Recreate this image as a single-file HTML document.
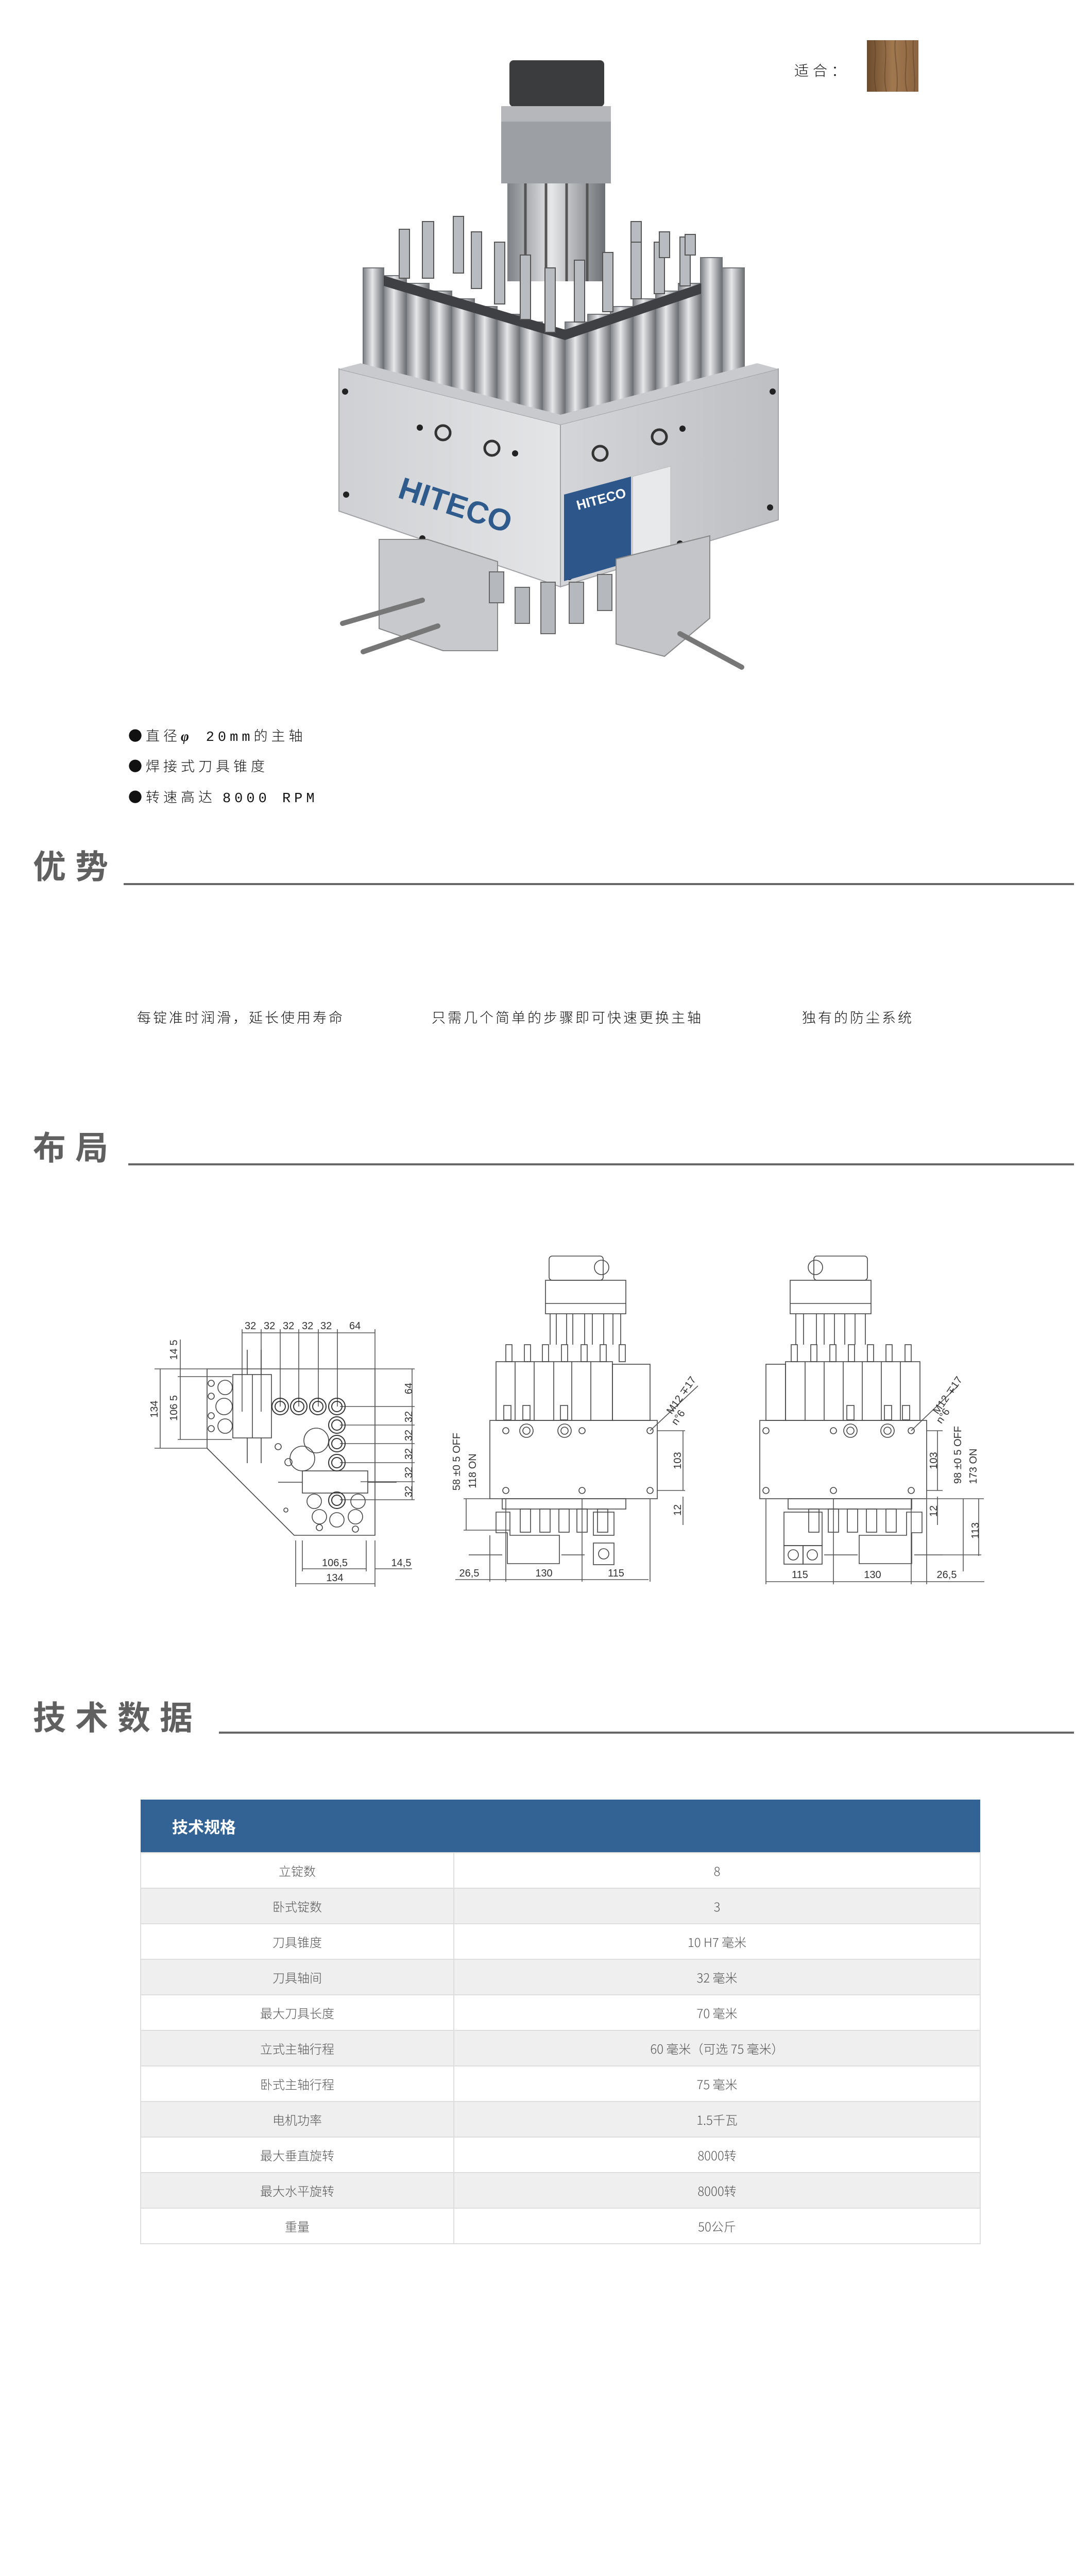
<!DOCTYPE html>
<html><head><meta charset="utf-8">
<style>
html,body{margin:0;padding:0;background:#fff;overflow:hidden;}
body{width:2120px;height:5102px;position:relative;overflow:hidden;font-family:"Liberation Sans","Noto Sans CJK SC",sans-serif;}
.a{position:absolute;white-space:nowrap;}
.h{font-family:"Noto Sans CJK SC",sans-serif;font-weight:700;color:#606060;font-size:64px;letter-spacing:18px;line-height:1;}
.hl{position:absolute;height:4px;background:#666;}
.b{font-family:"Noto Sans CJK SC",sans-serif;font-weight:300;color:#111;font-size:27px;letter-spacing:7px;line-height:1;}
.adv{font-family:"Noto Sans CJK SC",sans-serif;font-weight:300;color:#111;font-size:27px;letter-spacing:4px;line-height:1;}
table{position:absolute;left:272px;top:3493px;width:1632px;border-collapse:collapse;font-family:"Noto Sans CJK SC",sans-serif;}
th{background:#336294;color:#fff;height:102px;text-align:left;padding:0 0 0 61px;font-size:31px;font-weight:700;}
td{height:67px;border:2px solid #dedede;text-align:center;font-size:24px;color:#555;font-weight:300;padding:0;}
tr.g td{background:#efefef;}
td.l{width:606px;}
</style></head><body>

<div class="a" style="left:1542px;top:116px;font-family:'Noto Sans CJK SC',sans-serif;font-weight:300;font-size:28px;letter-spacing:8px;color:#111;">适合：</div>
<svg class="a" style="left:1683px;top:78px" width="100" height="100">
<defs><linearGradient id="w" x1="0" x2="1"><stop offset="0" stop-color="#6b4a2c"/><stop offset=".5" stop-color="#a07850"/><stop offset="1" stop-color="#8a6440"/></linearGradient></defs>
<rect width="100" height="100" fill="url(#w)"/>
<path d="M15 0 C20 40 10 60 18 100 M35 0 C40 40 30 70 38 100 M55 0 C52 30 62 60 58 100 M75 0 C80 40 70 70 78 100 M90 0 C88 40 95 70 92 100" stroke="#5a3c22" stroke-width="2" fill="none" opacity=".5"/>
</svg>

<!-- product image -->
<svg class="a" style="left:0;top:0" width="2120" height="1320">
<defs>
<linearGradient id="lf" x1="0" x2="1"><stop offset="0" stop-color="#cfd0d3"/><stop offset="1" stop-color="#e4e5e7"/></linearGradient>
<linearGradient id="rf" x1="0" x2="1"><stop offset="0" stop-color="#d4d5d8"/><stop offset="1" stop-color="#bdbfc2"/></linearGradient>
<linearGradient id="rod" x1="0" x2="1"><stop offset="0" stop-color="#7d8084"/><stop offset=".45" stop-color="#e6e7e9"/><stop offset="1" stop-color="#6c6f73"/></linearGradient>
</defs>
<rect x="989" y="117" width="184" height="90" rx="8" fill="#3b3c3e"/>
<rect x="973" y="206" width="213" height="150" fill="#9c9fa3"/>
<rect x="973" y="206" width="213" height="30" fill="#b5b7ba"/>
<rect x="985" y="356" width="190" height="190" fill="url(#rod)"/>
<g stroke="#555" stroke-width="5"><line x1="1020" y1="356" x2="1020" y2="546"/><line x1="1060" y1="356" x2="1060" y2="546"/><line x1="1100" y1="356" x2="1100" y2="546"/><line x1="1140" y1="356" x2="1140" y2="546"/></g>
<!-- spindle cluster -->
<g fill="url(#rod)" stroke="#707377" stroke-width="2">
<rect x="705" y="520" width="40" height="230"/><rect x="1400" y="520" width="45" height="230"/><rect x="1360" y="500" width="42" height="250"/>
<rect x="745" y="535" width="44" height="240"/><rect x="789" y="550" width="44" height="240"/><rect x="833" y="565" width="44" height="240"/><rect x="877" y="580" width="44" height="240"/><rect x="921" y="595" width="44" height="240"/><rect x="965" y="610" width="44" height="240"/><rect x="1009" y="625" width="44" height="240"/><rect x="1053" y="640" width="44" height="240"/>
<rect x="1097" y="625" width="44" height="240"/><rect x="1141" y="610" width="44" height="240"/><rect x="1185" y="595" width="44" height="240"/><rect x="1229" y="580" width="44" height="240"/><rect x="1273" y="565" width="44" height="240"/><rect x="1317" y="550" width="44" height="240"/>
</g>
<g fill="#3f4043">
<path d="M745 535 L1097 640 L1361 550 L1361 570 L1097 660 L745 555Z"/>
</g>
<g fill="#b8bbbf" stroke="#555" stroke-width="2">
<rect x="775" y="445" width="20" height="95"/><rect x="820" y="430" width="22" height="110"/><rect x="880" y="420" width="20" height="110"/><rect x="915" y="450" width="20" height="110"/><rect x="960" y="470" width="20" height="120"/><rect x="1010" y="495" width="20" height="125"/><rect x="1058" y="520" width="20" height="125"/><rect x="1115" y="505" width="20" height="120"/><rect x="1170" y="490" width="20" height="115"/><rect x="1225" y="460" width="20" height="120"/><rect x="1270" y="470" width="20" height="100"/><rect x="1320" y="460" width="20" height="95"/><rect x="1280" y="450" width="20" height="50"/><rect x="1225" y="430" width="20" height="40"/><rect x="1330" y="455" width="20" height="40"/>
</g>
<g fill="#c5c7ca" stroke="#777" stroke-width="2">
<rect x="905" y="890" width="24" height="55"/><rect x="1000" y="930" width="24" height="55"/><rect x="1100" y="935" width="24" height="55"/><rect x="1210" y="900" width="24" height="55"/>
</g>
<!-- block -->
<path d="M658 716 L1088 824 L1088 1139 L658 992Z" fill="url(#lf)" stroke="#a0a2a5" stroke-width="2"/>
<path d="M1088 824 L1511 716 L1511 1009 L1088 1139Z" fill="url(#rf)" stroke="#a0a2a5" stroke-width="2"/>
<path d="M658 716 L700 705 L1088 805 L1470 705 L1511 716 L1088 824Z" fill="#c9cacd"/>
<g fill="#222"><circle cx="670" cy="760" r="6"/><circle cx="672" cy="960" r="6"/><circle cx="815" cy="830" r="6"/><circle cx="1000" cy="880" r="6"/><circle cx="1500" cy="760" r="6"/><circle cx="1495" cy="985" r="6"/><circle cx="1325" cy="832" r="6"/><circle cx="1105" cy="1120" r="6"/><circle cx="1320" cy="1055" r="6"/><circle cx="820" cy="1045" r="6"/></g>
<g fill="none" stroke="#333" stroke-width="5"><circle cx="860" cy="840" r="14"/><circle cx="955" cy="870" r="14"/><circle cx="1165" cy="880" r="14"/><circle cx="1280" cy="848" r="14"/></g>
<text x="770" y="965" transform="rotate(18 770 965)" font-family="Liberation Sans" font-weight="700" font-size="60" fill="#2e5a8c">HITECO</text>
<path d="M1095 960 L1225 925 L1225 1090 L1095 1128Z" fill="#2d568a"/>
<path d="M1228 925 L1302 905 L1302 1065 L1228 1088Z" fill="#e8e9eb" stroke="#bbb"/>
<text x="1122" y="990" transform="rotate(-15 1122 990)" font-family="Liberation Sans" font-weight="700" font-size="26" fill="#fff">HITECO</text>
<!-- bottom units -->
<path d="M736 1047 L830 1047 L966 1090 L966 1263 L860 1263 L736 1220Z" fill="#c7c9cc" stroke="#888" stroke-width="2"/>
<path d="M1196 1085 L1378 1040 L1378 1200 L1290 1274 L1196 1250Z" fill="#c3c5c8" stroke="#888" stroke-width="2"/>
<g fill="#b5b8bc" stroke="#666" stroke-width="2"><rect x="1000" y="1140" width="28" height="70"/><rect x="1050" y="1130" width="28" height="100"/><rect x="1105" y="1130" width="28" height="80"/><rect x="1160" y="1115" width="28" height="70"/><rect x="950" y="1110" width="28" height="60"/></g>
<g stroke="#777" stroke-width="10" stroke-linecap="round"><line x1="665" y1="1210" x2="820" y2="1165"/><line x1="705" y1="1265" x2="850" y2="1215"/><line x1="1320" y1="1230" x2="1440" y2="1295"/></g>
</svg>

<div class="a b" style="left:249px;top:1413px">●直径<i style="font-family:'Liberation Serif';font-weight:700">φ</i>&nbsp; <span style="font-family:'Liberation Mono'">20mm</span>的主轴</div>
<div class="a b" style="left:249px;top:1472px">●焊接式刀具锥度</div>
<div class="a b" style="left:249px;top:1532px">●转速高达 <span style="font-family:'Liberation Mono'">8000 RPM</span></div>

<div class="a h" style="left:64px;top:1646px">优势</div>
<div class="hl" style="left:240px;width:1845px;top:1714px;"></div>
<div class="a adv" style="left:266px;top:1960px">每锭准时润滑，延长使用寿命</div>
<div class="a adv" style="left:838px;top:1960px">只需几个简单的步骤即可快速更换主轴</div>
<div class="a adv" style="left:1557px;top:1960px">独有的防尘系统</div>

<div class="a h" style="left:64px;top:2192px">布局</div>
<div class="hl" style="left:249px;width:1836px;top:2258px;"></div>

<!-- drawings -->
<svg class="a" style="left:0;top:2380px" width="2120" height="720" font-family="Liberation Sans" font-size="20" fill="#333">
<g transform="translate(0,-2380)" stroke="#444" stroke-width="1.6" fill="none">
<path d="M402 2657 L728 2657 L728 2980 L571 2980 L402 2811Z"/>
<g stroke="#555">
<line x1="470" y1="2587" x2="728" y2="2587"/>
<line x1="470" y1="2580" x2="470" y2="2740"/><line x1="507" y1="2580" x2="507" y2="2740"/><line x1="544" y1="2580" x2="544" y2="2730"/><line x1="580" y1="2580" x2="580" y2="2730"/><line x1="618" y1="2580" x2="618" y2="2730"/><line x1="655" y1="2580" x2="655" y2="2730"/><line x1="728" y1="2580" x2="728" y2="2657"/>
<line x1="311" y1="2657" x2="311" y2="2811"/><line x1="300" y1="2657" x2="402" y2="2657"/><line x1="300" y1="2811" x2="402" y2="2811"/>
<line x1="350" y1="2600" x2="350" y2="2794"/><line x1="345" y1="2672" x2="450" y2="2672"/><line x1="345" y1="2794" x2="450" y2="2794"/>
<line x1="800" y1="2657" x2="800" y2="2911"/>
<line x1="660" y1="2730" x2="805" y2="2730"/><line x1="660" y1="2766" x2="805" y2="2766"/><line x1="660" y1="2802" x2="805" y2="2802"/><line x1="660" y1="2839" x2="805" y2="2839"/><line x1="700" y1="2876" x2="805" y2="2876"/><line x1="660" y1="2911" x2="805" y2="2911"/><line x1="728" y1="2657" x2="805" y2="2657"/>
<line x1="574" y1="2990" x2="574" y2="3080"/><line x1="587" y1="2990" x2="587" y2="3050"/><line x1="711" y1="2990" x2="711" y2="3050"/><line x1="728" y1="2990" x2="728" y2="3080"/>
<line x1="587" y1="3045" x2="711" y2="3045"/><line x1="728" y1="3045" x2="800" y2="3045"/><line x1="574" y1="3074" x2="728" y2="3074"/>
</g>
<rect x="452" y="2668" width="75" height="123"/>
<line x1="490" y1="2668" x2="490" y2="2791"/>
<rect x="587" y="2855" width="127" height="43"/>
<g stroke="#333" stroke-width="2">
<circle cx="544" cy="2730" r="16"/><circle cx="544" cy="2730" r="10"/><circle cx="580" cy="2730" r="16"/><circle cx="580" cy="2730" r="10"/><circle cx="617" cy="2730" r="16"/><circle cx="617" cy="2730" r="10"/><circle cx="654" cy="2730" r="16"/><circle cx="654" cy="2730" r="10"/>
<circle cx="654" cy="2766" r="16"/><circle cx="654" cy="2766" r="10"/><circle cx="654" cy="2802" r="16"/><circle cx="654" cy="2802" r="10"/><circle cx="654" cy="2839" r="16"/><circle cx="654" cy="2839" r="10"/><circle cx="654" cy="2912" r="16"/><circle cx="654" cy="2912" r="10"/>
</g>
<circle cx="435" cy="2730" r="16"/><circle cx="437" cy="2693" r="14"/><circle cx="437" cy="2768" r="14"/><circle cx="410" cy="2685" r="6"/><circle cx="410" cy="2710" r="6"/><circle cx="410" cy="2748" r="6"/><circle cx="410" cy="2773" r="6"/>
<circle cx="614" cy="2796" r="24"/><circle cx="587" cy="2831" r="24"/><circle cx="560" cy="2838" r="7"/><circle cx="540" cy="2808" r="6"/>
<circle cx="620" cy="2944" r="14"/><circle cx="690" cy="2944" r="14"/><circle cx="620" cy="2965" r="6"/><circle cx="654" cy="2950" r="14"/><circle cx="690" cy="2968" r="6"/><circle cx="610" cy="2914" r="14"/><circle cx="695" cy="2914" r="14"/><circle cx="555" cy="2931" r="4"/>
<path d="M480 2620 L480 2668 M507 2620 L507 2668 M480 2791 L480 2840 M507 2791 L507 2840 M540 2877 L587 2877 M714 2877 L770 2877"/>
<!-- middle elevation -->
<rect x="1066" y="2438" width="105" height="47" rx="6"/><circle cx="1168" cy="2460" r="14"/>
<rect x="1059" y="2485" width="156" height="65"/><line x1="1059" y1="2530" x2="1215" y2="2530"/>
<g><line x1="1068" y1="2550" x2="1068" y2="2610"/><line x1="1080" y1="2550" x2="1080" y2="2610"/><line x1="1100" y1="2550" x2="1100" y2="2610"/><line x1="1112" y1="2550" x2="1112" y2="2610"/><line x1="1135" y1="2550" x2="1135" y2="2610"/><line x1="1150" y1="2550" x2="1150" y2="2610"/><line x1="1172" y1="2550" x2="1172" y2="2610"/><line x1="1190" y1="2550" x2="1190" y2="2610"/><line x1="1205" y1="2550" x2="1205" y2="2610"/></g>
<g><rect x="982" y="2610" width="12" height="33"/><rect x="1018" y="2610" width="12" height="33"/><rect x="1053" y="2610" width="12" height="33"/><rect x="1090" y="2610" width="12" height="33"/><rect x="1128" y="2610" width="12" height="33"/><rect x="1165" y="2610" width="12" height="33"/><rect x="1202" y="2610" width="12" height="33"/></g>
<rect x="963" y="2643" width="226" height="114"/><rect x="1189" y="2648" width="73" height="109"/>
<line x1="1000" y1="2643" x2="1000" y2="2757"/><line x1="1037" y1="2643" x2="1037" y2="2757"/><line x1="1075" y1="2643" x2="1075" y2="2757"/><line x1="1110" y1="2643" x2="1110" y2="2757"/><line x1="1147" y1="2643" x2="1147" y2="2757"/>
<rect x="978" y="2728" width="14" height="28"/><rect x="1015" y="2728" width="14" height="28"/><rect x="1088" y="2728" width="14" height="28"/>
<rect x="951" y="2757" width="325" height="152"/>
<circle cx="982" cy="2777" r="6"/><circle cx="1130" cy="2777" r="6"/><circle cx="1262" cy="2777" r="6"/><circle cx="982" cy="2893" r="6"/><circle cx="1130" cy="2893" r="6"/><circle cx="1262" cy="2893" r="6"/>
<circle cx="1022" cy="2777" r="13"/><circle cx="1022" cy="2777" r="7"/><circle cx="1096" cy="2777" r="13"/><circle cx="1096" cy="2777" r="7"/>
<rect x="975" y="2909" width="240" height="20"/>
<rect x="1010" y="2929" width="20" height="45"/><rect x="1048" y="2929" width="20" height="45"/><rect x="1085" y="2929" width="20" height="45"/><rect x="1120" y="2929" width="20" height="45"/><rect x="1160" y="2929" width="20" height="45"/>
<path d="M963 2935 L990 2935 L990 2980 L1086 2980 L1086 3035 L985 3035 L985 2975 L963 2975Z"/>
<rect x="1152" y="2935" width="40" height="45"/><rect x="1152" y="2995" width="40" height="42"/><circle cx="1172" cy="3016" r="10"/>
<path d="M910 3018 L975 3018 M1090 3018 L1135 3018"/>
<g stroke="#555"><line x1="1276" y1="2777" x2="1330" y2="2777"/><line x1="1276" y1="2893" x2="1330" y2="2893"/><line x1="1326" y1="2777" x2="1326" y2="2893"/><line x1="1326" y1="2905" x2="1326" y2="2960"/>
<line x1="884" y1="3066" x2="1259" y2="3066"/><line x1="951" y1="2980" x2="951" y2="3070"/><line x1="982" y1="2910" x2="982" y2="3070"/><line x1="1130" y1="2910" x2="1130" y2="3070"/><line x1="1262" y1="2910" x2="1262" y2="3070"/>
<line x1="905" y1="2909" x2="905" y2="2970"/><line x1="900" y1="2909" x2="951" y2="2909"/><line x1="900" y1="2970" x2="990" y2="2970"/>
<line x1="1262" y1="2777" x2="1355" y2="2690"/></g>
<!-- right elevation -->
<rect x="1580" y="2438" width="104" height="47" rx="6"/><circle cx="1583" cy="2460" r="14"/>
<rect x="1534" y="2485" width="157" height="65"/><line x1="1534" y1="2530" x2="1691" y2="2530"/>
<g><line x1="1545" y1="2550" x2="1545" y2="2610"/><line x1="1560" y1="2550" x2="1560" y2="2610"/><line x1="1585" y1="2550" x2="1585" y2="2610"/><line x1="1600" y1="2550" x2="1600" y2="2610"/><line x1="1620" y1="2550" x2="1620" y2="2610"/><line x1="1640" y1="2550" x2="1640" y2="2610"/><line x1="1660" y1="2550" x2="1660" y2="2610"/><line x1="1680" y1="2550" x2="1680" y2="2610"/></g>
<g><rect x="1536" y="2610" width="12" height="33"/><rect x="1574" y="2610" width="12" height="33"/><rect x="1611" y="2610" width="12" height="33"/><rect x="1647" y="2610" width="12" height="33"/><rect x="1684" y="2610" width="12" height="33"/><rect x="1720" y="2610" width="12" height="33"/><rect x="1757" y="2610" width="12" height="33"/></g>
<rect x="1487" y="2648" width="38" height="109"/><rect x="1525" y="2643" width="261" height="114"/>
<line x1="1563" y1="2643" x2="1563" y2="2757"/><line x1="1600" y1="2643" x2="1600" y2="2757"/><line x1="1637" y1="2643" x2="1637" y2="2757"/><line x1="1674" y1="2643" x2="1674" y2="2757"/><line x1="1711" y1="2643" x2="1711" y2="2757"/><line x1="1748" y1="2643" x2="1748" y2="2757"/>
<rect x="1644" y="2728" width="14" height="28"/><rect x="1717" y="2728" width="14" height="28"/><rect x="1752" y="2728" width="14" height="28"/>
<rect x="1475" y="2757" width="324" height="152"/>
<circle cx="1487" cy="2777" r="6"/><circle cx="1618" cy="2777" r="6"/><circle cx="1769" cy="2777" r="6"/><circle cx="1487" cy="2893" r="6"/><circle cx="1618" cy="2893" r="6"/><circle cx="1769" cy="2893" r="6"/>
<circle cx="1651" cy="2777" r="13"/><circle cx="1651" cy="2777" r="7"/><circle cx="1723" cy="2777" r="13"/><circle cx="1723" cy="2777" r="7"/>
<rect x="1530" y="2909" width="240" height="20"/>
<rect x="1570" y="2929" width="20" height="45"/><rect x="1608" y="2929" width="20" height="45"/><rect x="1645" y="2929" width="20" height="45"/><rect x="1682" y="2929" width="20" height="45"/><rect x="1720" y="2929" width="20" height="45"/>
<rect x="1522" y="2935" width="74" height="65"/><rect x="1522" y="3000" width="37" height="36"/><rect x="1559" y="3000" width="37" height="36"/><circle cx="1540" cy="3018" r="10"/><circle cx="1577" cy="3018" r="10"/>
<path d="M1760 2935 L1790 2935 L1790 2975 L1770 2975 L1770 3035 L1668 3035 L1668 2980 L1760 2980Z"/>
<path d="M1600 3018 L1665 3018 M1775 3018 L1830 3018"/>
<g stroke="#555"><line x1="1799" y1="2777" x2="1830" y2="2777"/><line x1="1799" y1="2893" x2="1830" y2="2893"/><line x1="1820" y1="2777" x2="1820" y2="2893"/><line x1="1820" y1="2905" x2="1820" y2="2960"/>
<line x1="1487" y1="3070" x2="1911" y2="3070"/><line x1="1487" y1="2910" x2="1487" y2="3075"/><line x1="1618" y1="2910" x2="1618" y2="3075"/><line x1="1769" y1="2910" x2="1769" y2="3075"/><line x1="1799" y1="2910" x2="1799" y2="3075"/>
<line x1="1870" y1="2909" x2="1870" y2="3050"/><line x1="1900" y1="2909" x2="1900" y2="3020"/><line x1="1800" y1="2909" x2="1910" y2="2909"/><line x1="1830" y1="3018" x2="1905" y2="3018"/>
<line x1="1769" y1="2777" x2="1860" y2="2690"/></g>
</g>
<g transform="translate(0,-2380)">
<text x="475" y="2580">32</text><text x="512" y="2580">32</text><text x="549" y="2580">32</text><text x="586" y="2580">32</text><text x="622" y="2580">32</text><text x="678" y="2580">64</text>
<text transform="translate(306 2735) rotate(-90)" text-anchor="middle">134</text>
<text transform="translate(344 2733) rotate(-90)" text-anchor="middle">106 5</text>
<text transform="translate(344 2620) rotate(-90)" text-anchor="middle">14 5</text>
<text transform="translate(800 2695) rotate(-90)" text-anchor="middle">64</text>
<text transform="translate(800 2750) rotate(-90)" text-anchor="middle">32</text><text transform="translate(800 2786) rotate(-90)" text-anchor="middle">32</text><text transform="translate(800 2822) rotate(-90)" text-anchor="middle">32</text><text transform="translate(800 2858) rotate(-90)" text-anchor="middle">32</text><text transform="translate(800 2895) rotate(-90)" text-anchor="middle">32</text>
<text x="650" y="3040" text-anchor="middle">106,5</text><text x="779" y="3040" text-anchor="middle">14,5</text><text x="650" y="3069" text-anchor="middle">134</text>
<text transform="translate(893 2837) rotate(-90)" text-anchor="middle">58 ±0 5 OFF</text>
<text transform="translate(924 2855) rotate(-90)" text-anchor="middle">118 ON</text>
<text transform="translate(1322 2835) rotate(-90)" text-anchor="middle">103</text>
<text transform="translate(1322 2931) rotate(-90)" text-anchor="middle">12</text>
<text transform="translate(1328 2712) rotate(-55)" text-anchor="middle">M12 ∓17</text>
<text transform="translate(1322 2755) rotate(-55)" text-anchor="middle">n°6</text>
<text x="911" y="3060" text-anchor="middle">26,5</text><text x="1056" y="3060" text-anchor="middle">130</text><text x="1196" y="3060" text-anchor="middle">115</text>
<text transform="translate(1819 2835) rotate(-90)" text-anchor="middle">103</text>
<text transform="translate(1866 2824) rotate(-90)" text-anchor="middle">98 ±0 5 OFF</text>
<text transform="translate(1896 2846) rotate(-90)" text-anchor="middle">173 ON</text>
<text transform="translate(1819 2933) rotate(-90)" text-anchor="middle">12</text>
<text transform="translate(1900 2971) rotate(-90)" text-anchor="middle">113</text>
<text transform="translate(1845 2712) rotate(-55)" text-anchor="middle">M12 ∓17</text>
<text transform="translate(1836 2752) rotate(-55)" text-anchor="middle">n°6</text>
<text x="1553" y="3063" text-anchor="middle">115</text><text x="1694" y="3063" text-anchor="middle">130</text><text x="1838" y="3063" text-anchor="middle">26,5</text>
</g>
</svg>

<div class="a h" style="left:64px;top:3298px">技术数据</div>
<div class="hl" style="left:425px;width:1660px;top:3361px;"></div>

<table>
<tr><th colspan="2">技术规格</th></tr>
<tr><td class="l">立锭数</td><td>8</td></tr>
<tr class="g"><td class="l">卧式锭数</td><td>3</td></tr>
<tr><td class="l">刀具锥度</td><td>10 H7 毫米</td></tr>
<tr class="g"><td class="l">刀具轴间</td><td>32 毫米</td></tr>
<tr><td class="l">最大刀具长度</td><td>70 毫米</td></tr>
<tr class="g"><td class="l">立式主轴行程</td><td>60 毫米（可选 75 毫米）</td></tr>
<tr><td class="l">卧式主轴行程</td><td>75 毫米</td></tr>
<tr class="g"><td class="l">电机功率</td><td>1.5千瓦</td></tr>
<tr><td class="l">最大垂直旋转</td><td>8000转</td></tr>
<tr class="g"><td class="l">最大水平旋转</td><td>8000转</td></tr>
<tr><td class="l">重量</td><td>50公斤</td></tr>
</table>
</body></html>
